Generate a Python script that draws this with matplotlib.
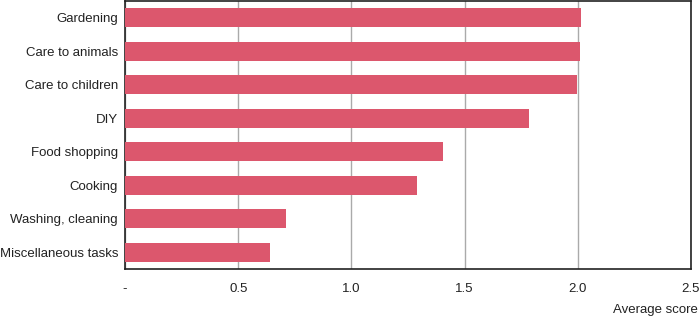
import matplotlib
matplotlib.use("Agg")
import matplotlib.pyplot as plt

categories = ["Gardening", "Care to animals", "Care to children", "DIY",
              "Food shopping", "Cooking", "Washing, cleaning", "Miscellaneous tasks"]
scores = [2.015, 2.01, 1.995, 1.785, 1.405, 1.29, 0.71, 0.64]
xticks = [0, 0.5, 1.0, 1.5, 2.0, 2.5]
xtick_labels = ["-", "0.5", "1.0", "1.5", "2.0", "2.5"]

plt.rcParams['font.family'] = ['Liberation Sans', 'DejaVu Sans']

fig = plt.figure(figsize=(7, 3.19), dpi=100)
ax = fig.add_axes([125 / 700, 50 / 319, 566 / 700, 268 / 319])

y = list(range(len(categories)))
ax.barh(y, scores, height=0.56, color='#dc576d', zorder=3)
ax.set_ylim(len(categories) - 0.5, -0.5)
ax.set_xlim(0, 2.5)

ax.set_yticks(y)
ax.set_yticklabels(categories, fontsize=9.5, color='#222222')
ax.set_xticks(xticks)
ax.set_xticklabels(xtick_labels, fontsize=9.5, color='#222222')
ax.tick_params(axis='both', length=0)
ax.tick_params(axis='x', pad=10)
ax.tick_params(axis='y', pad=5)

ax.grid(axis='x', color='#aaaaaa', linewidth=1, zorder=0)
for s in ax.spines.values():
    s.set_color('#222222')
    s.set_linewidth(1.2)

fig.text(698 / 700, 1 - 310 / 319, "Average score", ha='right', va='center',
         fontsize=9.5, color='#222222')

fig.savefig("out.png", dpi=100)
